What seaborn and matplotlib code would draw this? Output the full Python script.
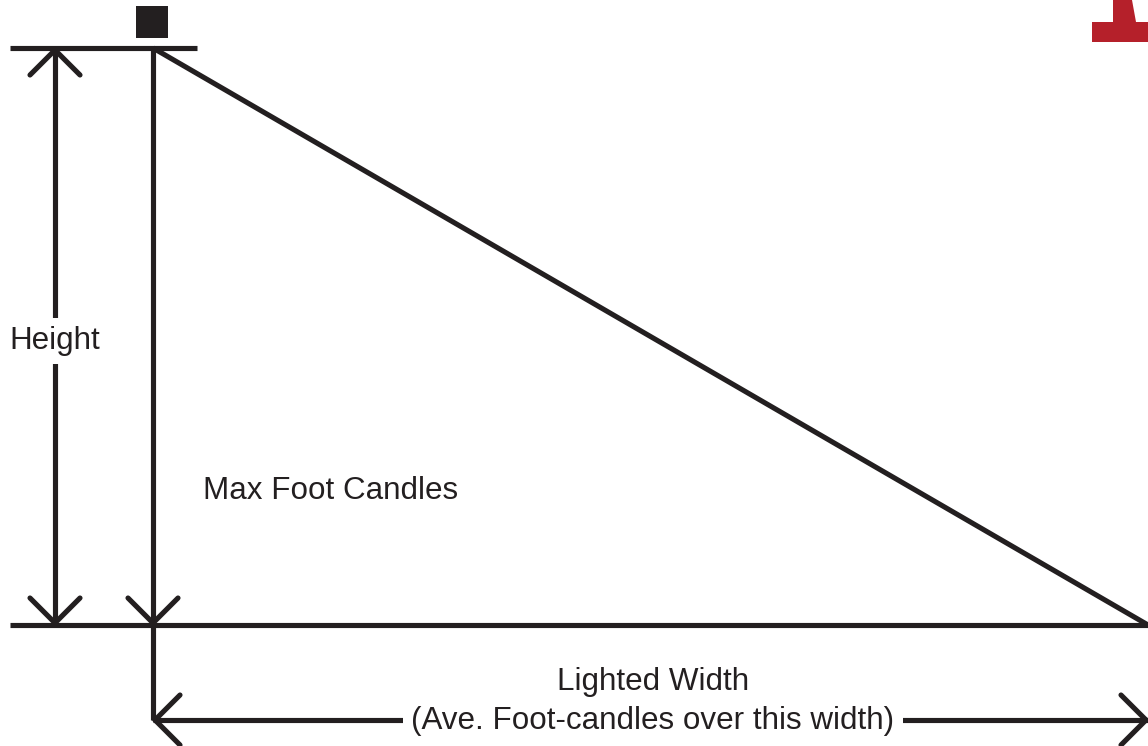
import numpy as np
import pandas as pd
import matplotlib.pyplot as plt
import seaborn as sns

# diagram geometry (pixel-like units, y grows downward)
pole_x = 153
mount_y = 48
ground_y = 625
far_x = 1148
height_arrow_x = 55
width_arrow_y = 720
line_left = 10
bar_right = 197

labels = ["Height", "Max Foot Candles", "Lighted Width", "(Ave. Foot-candles over this width)"]

INK = "#231f20"
RED = "#b5202a"
LW = 3.7

sns.set_style("white")
plt.rcParams["font.family"] = ["Liberation Sans", "DejaVu Sans"]

fig = plt.figure(figsize=(11.48, 7.46), dpi=100)
ax = fig.add_axes([0, 0, 1, 1])

# main segments
segs = pd.DataFrame({
    "seg": ["bar", "bar", "pole", "pole", "beam", "beam", "ground", "ground",
            "height", "height", "width", "width"],
    "x": [line_left, bar_right, pole_x, pole_x, pole_x, far_x, line_left, far_x,
          height_arrow_x, height_arrow_x, pole_x, far_x],
    "y": [mount_y, mount_y, mount_y, width_arrow_y, mount_y, ground_y, ground_y, ground_y,
          mount_y, ground_y, width_arrow_y, width_arrow_y],
})
sns.lineplot(data=segs, x="x", y="y", units="seg", estimator=None, sort=False,
             color=INK, lw=LW, ax=ax, legend=False, solid_capstyle="butt")
ax.set_xlim(0, 1148)
ax.set_ylim(746, 0)
ax.axis("off")


def head(tip, direction, size=25):
    # open V arrowhead, wings at 45 degrees
    d = np.array(direction, dtype=float)
    d /= np.linalg.norm(d)
    perp = np.array([-d[1], d[0]])
    for s in (1, -1):
        back = np.array(tip) - size * d + s * size * perp
        ax.plot([back[0], tip[0]], [back[1], tip[1]], color=INK, lw=LW,
                solid_capstyle="round")


head((height_arrow_x, mount_y + 2), (0, -1))
head((height_arrow_x, ground_y - 2), (0, 1))
head((pole_x, ground_y - 2), (0, 1))
head((pole_x + 2, width_arrow_y), (-1, 0))
head((far_x - 2, width_arrow_y), (1, 0))

# luminaire
ax.add_patch(plt.Rectangle((136, 6), 32, 32, color=INK, lw=0))

# red corner mark
ax.add_patch(plt.Polygon([(1092, 42), (1092, 22), (1113, 22), (1113, 0), (1132, 0),
                          (1136, 22), (1148, 22), (1148, 42)], color=RED, lw=0))

fs = 22.6
ax.text(55, 341, labels[0], fontsize=fs, ha="center", va="center", color=INK,
        bbox=dict(fc="white", ec="none", pad=6))
ax.text(203, 491, labels[1], fontsize=fs, ha="left", va="center", color=INK)
ax.text(653, 682, labels[2], fontsize=fs, ha="center", va="center", color=INK)
ax.text(653, 721, labels[3], fontsize=fs, ha="center", va="center", color=INK,
        bbox=dict(fc="white", ec="none", pad=6))

fig.savefig("out.png", dpi=100)
